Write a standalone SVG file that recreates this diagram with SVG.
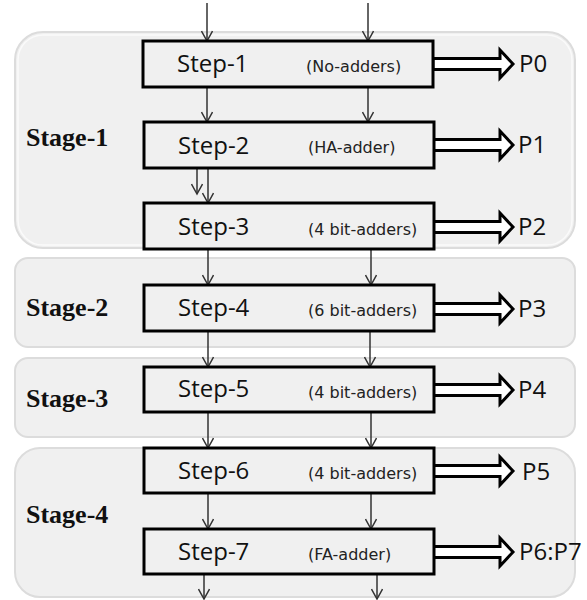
<svg xmlns="http://www.w3.org/2000/svg" width="587" height="600" viewBox="0 0 587 600">
<style>
.panel{fill:#f0f0f0;stroke:#dcdcdc;stroke-width:2}
.panelhi{fill:none;stroke:#fafafa;stroke-width:1.5}
.box{fill:#f0f0f0;stroke:#000;stroke-width:3}
.stage{font-family:"Liberation Serif",serif;font-weight:bold;font-size:26px;fill:#111}
.step{font-family:"Open Sans","Liberation Sans",sans-serif;font-size:24px;fill:#111}
.note{font-family:"DejaVu Sans",sans-serif;font-size:16px;fill:#222}
.out{font-family:"Open Sans","Liberation Sans",sans-serif;font-size:24px;fill:#111}
.ln{stroke:#333;stroke-width:1.5;fill:none}
.big{fill:#fff;stroke:#000;stroke-width:3;stroke-linejoin:miter}
</style>
<defs>
<marker id="ah" markerWidth="14" markerHeight="12" refX="12" refY="6" orient="auto" markerUnits="userSpaceOnUse" viewBox="0 0 14 12">
<path d="M2,0.5 L12,6 L2,11.5" fill="none" stroke="#333" stroke-width="1.5"/>
</marker>
<path id="barrow" d="M0,-5.5 H67 V-14 L80,0 L67,14 V5.5 H0 Z"/>
</defs>
<rect width="587" height="600" fill="#fff"/>

<g id="stage-1">
<rect class="panel" x="15" y="32" width="560" height="216" rx="28"/>
<rect class="panelhi" x="18" y="35" width="554" height="210" rx="25"/>
<text class="stage" x="26" y="146">Stage-1</text>
</g>
<g id="stage-2">
<rect class="panel" x="15" y="258" width="560" height="89" rx="13"/>
<text class="stage" x="26" y="316">Stage-2</text>
</g>
<g id="stage-3">
<rect class="panel" x="15" y="358" width="560" height="79" rx="13"/>
<text class="stage" x="26" y="407">Stage-3</text>
</g>
<g id="stage-4">
<rect class="panel" x="15" y="448" width="560" height="149" rx="25"/>
<text class="stage" x="26" y="523">Stage-4</text>
</g>

<g id="connectors">
<line class="ln" x1="207" y1="3" x2="207" y2="41" marker-end="url(#ah)"/>
<line class="ln" x1="368" y1="3" x2="368" y2="41" marker-end="url(#ah)"/>
<line class="ln" x1="207" y1="87" x2="207" y2="122" marker-end="url(#ah)"/>
<line class="ln" x1="368" y1="87" x2="368" y2="122" marker-end="url(#ah)"/>
<line class="ln" x1="197" y1="168" x2="197" y2="194" marker-end="url(#ah)"/>
<line class="ln" x1="208" y1="168" x2="208" y2="203" marker-end="url(#ah)"/>
<line class="ln" x1="208" y1="249" x2="208" y2="285" marker-end="url(#ah)"/>
<line class="ln" x1="371" y1="249" x2="371" y2="285" marker-end="url(#ah)"/>
<line class="ln" x1="208" y1="331" x2="208" y2="367" marker-end="url(#ah)"/>
<line class="ln" x1="370" y1="331" x2="370" y2="367" marker-end="url(#ah)"/>
<line class="ln" x1="208" y1="412" x2="208" y2="448" marker-end="url(#ah)"/>
<line class="ln" x1="371" y1="412" x2="371" y2="448" marker-end="url(#ah)"/>
<line class="ln" x1="208" y1="493" x2="208" y2="529" marker-end="url(#ah)"/>
<line class="ln" x1="371" y1="493" x2="371" y2="529" marker-end="url(#ah)"/>
<line class="ln" x1="204" y1="566" x2="204" y2="599" marker-end="url(#ah)"/>
<line class="ln" x1="377" y1="566" x2="377" y2="599" marker-end="url(#ah)"/>
<use href="#barrow" class="big" x="433" y="64"/>
<use href="#barrow" class="big" x="433" y="145"/>
<use href="#barrow" class="big" x="433" y="227"/>
<use href="#barrow" class="big" x="433" y="309"/>
<use href="#barrow" class="big" x="433" y="390"/>
<use href="#barrow" class="big" x="433" y="471"/>
<use href="#barrow" class="big" x="433" y="552"/>
</g>

<g id="step-1">
<rect class="box" x="143" y="41" width="290" height="46"/>
<text class="step" x="177" y="72">Step-1</text>
<text class="note" x="306" y="72">(No-adders)</text>
<text class="out" x="519" y="72">P0</text>
</g>
<g id="step-2">
<rect class="box" x="144" y="122" width="290" height="46"/>
<text class="step" x="178" y="154">Step-2</text>
<text class="note" x="308" y="153">(HA-adder)</text>
<text class="out" x="518" y="153">P1</text>
</g>
<g id="step-3">
<rect class="box" x="144" y="203" width="290" height="46"/>
<text class="step" x="178" y="235">Step-3</text>
<text class="note" x="308" y="235">(4 bit-adders)</text>
<text class="out" x="518" y="235">P2</text>
</g>
<g id="step-4">
<rect class="box" x="144" y="285" width="290" height="46"/>
<text class="step" x="178" y="316">Step-4</text>
<text class="note" x="308" y="316">(6 bit-adders)</text>
<text class="out" x="518" y="317">P3</text>
</g>
<g id="step-5">
<rect class="box" x="144" y="367" width="290" height="45"/>
<text class="step" x="178" y="397">Step-5</text>
<text class="note" x="308" y="398">(4 bit-adders)</text>
<text class="out" x="518" y="398">P4</text>
</g>
<g id="step-6">
<rect class="box" x="144" y="448" width="290" height="45"/>
<text class="step" x="178" y="479">Step-6</text>
<text class="note" x="308" y="479">(4 bit-adders)</text>
<text class="out" x="522" y="480">P5</text>
</g>
<g id="step-7">
<rect class="box" x="144" y="529" width="290" height="45"/>
<text class="step" x="178" y="560">Step-7</text>
<text class="note" x="308" y="560">(FA-adder)</text>
<text class="out" x="519" y="560">P6:P7</text>
</g>
</svg>
